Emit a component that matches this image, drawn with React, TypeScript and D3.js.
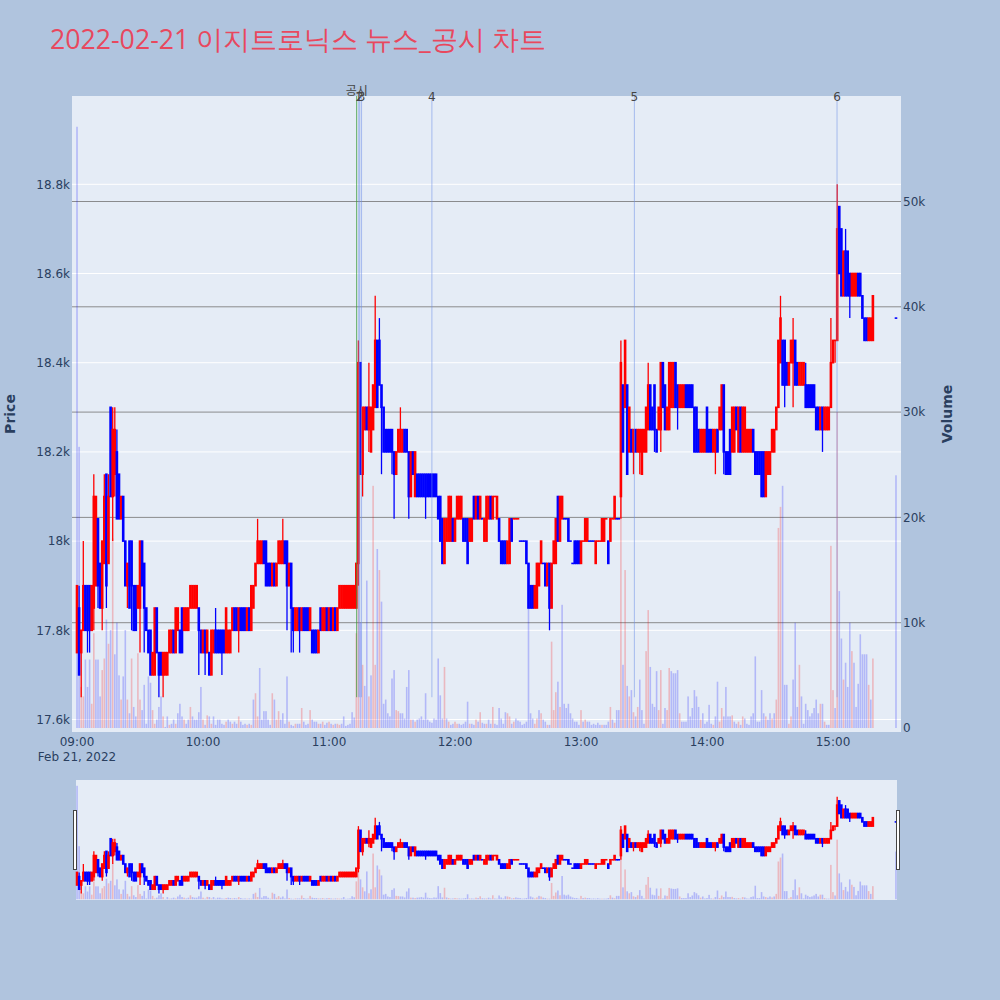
import React from "react";
import * as d3 from "d3";

type OHLC = [number, number, number, number]; // open, high, low, close

// ---------- one-minute candles (2022-02-21) ----------
const ohlc09: OHLC[] = [
  [17750,17900,17750,17900],[17850,17900,17700,17700],[17750,17800,17650,17800],[17800,18000,17800,17900],
  [17900,17900,17800,17800],[17900,17900,17750,17800],[17900,17900,17750,17800],[17800,17900,17800,17900],
  [17850,18150,17800,18100],[17900,18100,17900,18100],[18050,18050,17850,17900],[17950,17950,17850,17850],
  [17850,18000,17800,18000],[17950,18150,17950,18100],[18150,18150,17850,17900],[17950,18150,17950,18100],
  [18300,18300,18100,18100],[18100,18300,18000,18250],[18150,18300,18100,18250],[18200,18250,18050,18050],
  [18150,18150,18050,18050],[18050,18100,18050,18100],[18100,18100,18000,18000],[18000,18000,17900,17900],
  [17900,17950,17850,17950],[18000,18000,17850,17850],[18000,18000,17800,17900],[17900,17900,17800,17800],
  [17900,17900,17800,17800],[17850,17900,17850,17900],[17850,18000,17750,18000],[18000,18000,17900,17900],
  [17950,17950,17750,17850],[17850,17850,17800,17800],[17800,17800,17750,17750],[17800,17800,17700,17700],
  [17700,17750,17700,17750],[17700,17850,17700,17850],[17850,17850,17750,17750],[17750,17750,17650,17700],
  [17750,17750,17700,17700],[17700,17750,17650,17750],[17700,17750,17700,17750],[17700,17750,17700,17750],
  [17750,17800,17750,17800],[17750,17800,17750,17800],[17800,17800,17750,17750],[17750,17850,17750,17850],
  [17800,17850,17800,17850],[17800,17800,17750,17750],[17850,17850,17750,17750],[17800,17850,17800,17850],
  [17800,17850,17800,17850],[17800,17850,17800,17850],[17850,17900,17850,17900],[17850,17900,17850,17900],
  [17850,17900,17850,17900],[17850,17900,17850,17900],[17850,17850,17700,17800],[17800,17800,17750,17750],
];
const ohlc10: OHLC[] = [
  [17750,17800,17750,17800],[17800,17800,17700,17750],[17750,17800,17750,17800],[17750,17750,17700,17700],
  [17700,17800,17700,17800],[17750,17800,17750,17800],[17800,17850,17750,17750],[17800,17800,17750,17750],
  [17800,17800,17750,17750],[17800,17800,17700,17750],[17800,17800,17750,17750],[17750,17850,17750,17850],
  [17750,17800,17750,17800],[17750,17800,17750,17800],[17800,17850,17800,17850],[17850,17850,17800,17800],
  [17850,17850,17800,17800],[17800,17850,17750,17850],[17850,17850,17800,17800],[17850,17850,17800,17800],
  [17850,17850,17800,17800],[17800,17850,17800,17850],[17850,17850,17800,17800],[17800,17900,17800,17900],
  [17850,17900,17850,17900],[17900,17950,17900,17950],[17950,18050,17950,18000],[17950,18000,17950,18000],
  [17950,18000,17950,18000],[18000,18000,17950,17950],[18000,18000,17900,17900],[17950,17950,17900,17900],
  [17950,17950,17900,17900],[17900,17950,17900,17950],[17950,17950,17900,17900],[17900,17950,17900,17950],
  [17950,18000,17950,18000],[17950,18000,17950,18000],[17950,18050,17950,18000],[18000,18000,17950,17950],
  [18000,18000,17800,17900],[17900,17950,17900,17950],[17950,17950,17750,17850],[17850,17850,17750,17800],
  [17800,17850,17800,17850],[17800,17850,17800,17850],[17850,17850,17750,17800],[17800,17850,17800,17850],
  [17850,17850,17800,17800],[17850,17850,17800,17800],[17850,17850,17800,17800],[17800,17850,17800,17850],
  [17800,17800,17750,17750],[17800,17800,17750,17750],[17800,17800,17750,17750],[17750,17800,17750,17800],
  [17850,17850,17800,17800],[17800,17850,17800,17850],[17800,17850,17800,17850],[17850,17850,17800,17800],
];
const ohlc11: OHLC[] = [
  [17800,17850,17800,17850],[17850,17850,17800,17800],[17800,17850,17800,17850],[17850,17850,17800,17800],
  [17800,17850,17800,17850],[17850,17900,17850,17900],[17850,17900,17850,17900],[17850,17900,17850,17900],
  [17850,17900,17850,17900],[17850,17900,17850,17900],[17850,17900,17850,17900],[17850,17900,17850,17900],
  [17850,17900,17850,17900],[17850,17950,17850,17950],[17950,18450,17900,18400],[18400,18400,18150,18150],
  [18150,18300,18100,18300],[18250,18300,18250,18300],[18300,18300,18250,18250],[18250,18400,18200,18300],
  [18200,18300,18200,18300],[18250,18350,18250,18350],[18300,18550,18300,18450],[18450,18450,18300,18300],
  [18450,18500,18350,18350],[18350,18350,18150,18300],[18300,18300,18200,18200],[18250,18250,18200,18200],
  [18250,18250,18200,18200],[18250,18250,18200,18200],[18250,18250,18150,18200],[18200,18200,18050,18150],
  [18150,18200,18150,18200],[18200,18250,18200,18250],[18200,18300,18200,18250],[18200,18250,18200,18250],
  [18250,18250,18200,18200],[18250,18250,18200,18200],[18200,18200,18050,18100],[18100,18200,18100,18200],
  [18200,18200,18150,18150],[18100,18200,18100,18200],[18150,18150,18100,18100],[18150,18150,18100,18100],
  [18150,18150,18100,18100],[18150,18150,18100,18100],[18150,18150,18050,18100],[18150,18150,18100,18100],
  [18150,18150,18100,18100],[18150,18150,18100,18100],[18150,18150,18100,18100],[18150,18150,18100,18100],
  [18100,18100,18050,18050],[18100,18100,18000,18000],[18050,18050,17950,17950],[17950,18050,17950,18050],
  [18000,18050,18000,18050],[18000,18100,18000,18100],[18000,18100,18000,18100],[18050,18050,18000,18000],
];
const ohlc12: OHLC[] = [
  [18000,18050,18000,18050],[18050,18100,18050,18100],[18050,18100,18050,18100],[18050,18100,18050,18100],
  [18050,18050,18000,18000],[18050,18050,18000,18000],[18050,18050,17950,17950],[18000,18050,18000,18050],
  [18000,18050,18000,18050],[18100,18100,18050,18050],[18050,18100,18050,18100],[18100,18100,18050,18050],
  [18050,18100,18050,18100],[18050,18050,18050,18050],[18000,18050,18000,18050],[18000,18100,18000,18100],
  [18050,18100,18050,18100],[18100,18100,18050,18050],[18050,18100,18050,18100],[18100,18100,18100,18100],
  [18050,18100,18050,18100],[18050,18050,18000,18000],[18000,18000,17950,17950],[18000,18000,17950,17950],
  [18000,18000,17950,17950],[17950,18000,17950,18000],[17950,18050,17950,18050],[18050,18050,18000,18000],
  [18050,18050,18050,18050],[18050,18050,18050,18050],[18050,18050,18050,18050],[18000,18000,18000,18000],
  [18000,18000,18000,18000],[18000,18000,18000,18000],[18000,18000,17950,17950],[17950,17950,17850,17850],
  [17900,17900,17850,17850],[17900,17900,17850,17850],[17850,17900,17850,17900],[17850,17950,17850,17950],
  [17900,17950,17900,17950],[17950,18000,17950,18000],[17950,17950,17950,17950],[17950,17950,17900,17900],
  [17900,17950,17900,17950],[17950,17950,17800,17850],[17850,17950,17850,17950],[17950,18000,17950,18000],
  [17950,18050,17950,18050],[18100,18100,18000,18000],[18000,18100,18000,18100],[18050,18100,18050,18100],
  [18050,18050,18050,18050],[18050,18050,18050,18050],[18050,18050,18000,18000],[18000,18000,18000,18000],
  [17950,17950,17950,17950],[18000,18000,17950,17950],[18000,18000,17950,17950],[18000,18000,17950,17950],
];
const ohlc13: OHLC[] = [
  [17950,18000,17950,18000],[18000,18000,18000,18000],[18000,18050,18000,18050],[18000,18050,18000,18050],
  [18000,18000,18000,18000],[18000,18000,18000,18000],[18000,18000,18000,18000],[17950,18000,17950,18000],
  [18000,18000,18000,18000],[18000,18000,18000,18000],[18000,18050,18000,18050],[18000,18050,18000,18050],
  [18050,18050,18050,18050],[18000,18000,17950,17950],[18000,18050,18000,18050],[18050,18050,18050,18050],
  [18050,18100,18050,18100],[18050,18050,18050,18050],[18050,18050,18050,18050],[18100,18450,18050,18400],
  [18350,18350,18200,18200],[18300,18450,18300,18450],[18350,18350,18150,18150],[18200,18300,18200,18300],
  [18250,18250,18200,18200],[18200,18250,18150,18250],[18250,18250,18200,18200],[18200,18250,18200,18250],
  [18200,18250,18150,18250],[18150,18250,18150,18250],[18200,18250,18200,18250],[18200,18300,18200,18300],
  [18250,18400,18250,18350],[18350,18350,18250,18250],[18300,18300,18250,18250],[18350,18350,18200,18250],
  [18250,18250,18200,18200],[18250,18300,18250,18300],[18250,18400,18200,18400],[18400,18400,18300,18300],
  [18350,18350,18250,18250],[18250,18300,18250,18300],[18250,18400,18250,18400],[18300,18400,18300,18400],
  [18300,18400,18300,18400],[18400,18400,18300,18300],[18350,18350,18250,18300],[18300,18350,18300,18350],
  [18300,18350,18300,18350],[18300,18350,18300,18350],[18350,18350,18300,18300],[18350,18350,18300,18300],
  [18350,18350,18300,18300],[18350,18350,18300,18300],[18300,18300,18200,18200],[18300,18300,18200,18200],
  [18250,18250,18200,18200],[18200,18250,18200,18250],[18200,18250,18200,18250],[18200,18250,18200,18250],
];
const ohlc14: OHLC[] = [
  [18300,18300,18200,18200],[18250,18250,18200,18200],[18250,18250,18200,18200],[18200,18250,18200,18250],
  [18200,18250,18150,18250],[18250,18250,18200,18200],[18250,18300,18250,18300],[18250,18350,18250,18350],
  [18350,18350,18150,18200],[18200,18200,18150,18150],[18200,18200,18150,18150],[18250,18250,18150,18150],
  [18200,18300,18200,18300],[18200,18300,18200,18300],[18300,18300,18250,18250],[18200,18300,18200,18300],
  [18300,18300,18200,18200],[18200,18300,18200,18300],[18200,18300,18200,18300],[18200,18250,18200,18250],
  [18200,18250,18200,18250],[18200,18250,18200,18250],[18250,18250,18200,18200],[18200,18200,18150,18150],
  [18200,18200,18150,18150],[18200,18200,18150,18150],[18200,18200,18100,18100],[18200,18200,18100,18100],
  [18100,18200,18100,18200],[18150,18200,18150,18200],[18150,18200,18150,18200],[18200,18250,18200,18250],
  [18200,18250,18200,18250],[18250,18300,18250,18300],[18300,18450,18300,18450],[18400,18550,18400,18500],
  [18450,18450,18350,18350],[18450,18450,18300,18350],[18400,18400,18350,18350],[18350,18400,18350,18400],
  [18400,18450,18400,18450],[18400,18500,18300,18450],[18450,18450,18350,18350],[18400,18400,18350,18350],
  [18350,18400,18350,18400],[18350,18400,18350,18400],[18350,18400,18350,18400],[18350,18400,18300,18300],
  [18350,18350,18300,18300],[18350,18350,18300,18300],[18350,18350,18300,18300],[18350,18350,18300,18300],
  [18300,18300,18250,18250],[18300,18300,18250,18250],[18250,18300,18250,18300],[18300,18300,18200,18250],
  [18250,18300,18250,18300],[18250,18300,18250,18300],[18250,18300,18250,18300],[18300,18500,18300,18400],
];
const ohlc15: OHLC[] = [
  [18400,18450,18400,18450],[18450,18450,18400,18450],[18450,18800,18450,18700],[18750,18750,18600,18600],
  [18700,18700,18550,18550],[18550,18650,18550,18650],[18650,18700,18550,18550],[18650,18650,18550,18550],
  [18600,18600,18500,18550],[18550,18600,18550,18600],[18550,18600,18550,18600],[18550,18600,18550,18600],
  [18600,18600,18550,18550],[18600,18600,18550,18550],[18550,18550,18500,18500],[18500,18500,18450,18450],
  [18500,18500,18450,18450],[18450,18500,18450,18500],[18450,18500,18450,18500],[18450,18550,18450,18550],
];
const closingAuction: OHLC = [18500, 18500, 18500, 18500]; // 15:30

// ---------- one-minute volumes ----------
const vol09 = [57100,26700,3900,3000,6500,3900,6500,2300,9000,6500,6500,3000,5500,6600,10300,8000,9300,18000,7000,10000,
  5000,2700,4900,9300,2700,1400,6600,2000,1100,7100,2700,1700,4100,400,4900,4300,1700,400,800,2000,
  3000,1100,100,1100,300,400,800,400,1400,2300,1100,800,400,800,2000,1100,800,800,1500,3900];
const vol10 = [800,300,1200,1100,400,1100,300,800,800,400,300,600,800,600,400,600,400,1100,600,300,
  400,300,400,300,2700,3300,1100,5700,800,1600,1600,800,300,3300,2700,800,1600,800,1400,400,
  4900,600,300,200,400,400,400,1900,600,300,400,1700,800,600,600,400,400,600,300,500];
const vol11 = [600,400,300,400,400,300,400,1100,200,300,400,1500,1000,9000,15000,10000,6000,4000,14000,3000,
  5000,23000,6000,17000,15000,12000,2300,2700,1400,1100,4700,5500,1700,1600,1400,1400,900,3900,5500,800,
  800,600,800,900,1100,800,3300,800,600,500,900,800,6600,3100,900,5800,900,600,300,400];
const vol12 = [600,400,400,300,400,600,2500,400,400,300,800,600,1500,500,400,400,800,400,2000,400,
  300,1900,900,400,1500,1400,1100,400,600,900,700,600,300,400,600,11400,1400,900,400,900,
  1700,1400,800,600,300,300,8200,1700,3400,4400,2000,11700,2300,1900,2300,1400,900,600,600,300];
const vol13 = [1700,600,800,600,600,300,400,300,500,300,300,300,300,600,2000,800,500,1700,1700,30000,
  6000,15000,4000,3000,3600,1500,1100,2000,4600,1700,400,7300,11200,5800,2300,2000,5400,1700,5500,400,
  1900,1700,5700,5400,5200,5200,5500,1400,600,600,600,3000,1100,1900,3600,3000,2000,800,1400,400];
const vol14 = [600,2200,400,300,1100,4400,600,1900,1100,3900,1100,1100,1200,600,400,600,300,1100,900,400,
  300,1100,1400,6800,600,600,3600,1400,1100,800,1400,900,1400,2700,19000,21000,23000,4100,4100,400,
  1100,4600,10000,2000,6000,3000,400,2300,1700,1100,1400,1900,2700,1400,2300,2300,600,300,300,17300];
const vol15 = [3600,1900,30000,13000,8500,4600,6200,3900,10000,7300,6200,2000,4200,8900,7000,7000,7000,4100,2700,6600];
const closingVolume = 24000;

// ---------- event markers ----------
const eventLabels = ["공시", "1", "2", "3", "4", "5", "6"];
const eventTimes = ["11:13:11", "11:14:10", "11:14:40", "11:15:30", "11:49:00", "13:25:25", "15:01:55"];

// ---------- axis ticks ----------
const priceTicks = [17600, 17800, 18000, 18200, 18400, 18600, 18800];
const volumeTicks = [0, 10000, 20000, 30000, 40000, 50000];

const TITLE = "2022-02-21 이지트로닉스 뉴스_공시 차트";
const TITLE_FONT = '"Open Sans", verdana, arial, sans-serif';
const FONT = '"DejaVu Sans", Verdana, "Noto Sans CJK KR", sans-serif';
const TXT = "#2a3f5f";
const UP = "#ff0000";
const DOWN = "#0000ff";

const day = (h: number, m: number, s = 0) => new Date(2022, 1, 21, h, m, s);
const parseT = (t: string) => {
  const [h, m, s] = t.split(":").map(Number);
  return day(h, m, s);
};

interface Bar { t: Date; o: number; h: number; l: number; c: number; v: number; up: boolean; volUp: boolean; }

function buildBars(): Bar[] {
  const sess = [...ohlc09, ...ohlc10, ...ohlc11, ...ohlc12, ...ohlc13, ...ohlc14, ...ohlc15];
  const vols = [...vol09, ...vol10, ...vol11, ...vol12, ...vol13, ...vol14, ...vol15];
  const rows: { t: Date; k: OHLC; v: number }[] = sess.map((k, i) => ({ t: day(9, i), k, v: vols[i] }));
  rows.push({ t: day(15, 30), k: closingAuction, v: closingVolume });
  const out: Bar[] = [];
  let prevC = NaN;
  let prevUp = true;
  rows.forEach((r) => {
    const [o, h, l, c] = r.k;
    let up: boolean;
    if (c > o) up = true;
    else if (c < o) up = false;
    else up = c > prevC ? true : c < prevC ? false : prevUp;
    const volUp = c > prevC; // volume colour: close versus previous close (first bar: down colour)
    out.push({ t: r.t, o, h, l, c, v: r.v, up, volUp });
    prevC = c;
    prevUp = up;
  });
  return out;
}

function Series({ bars, x, yP, yV, bodyW, wickW, volW }: {
  bars: Bar[]; x: (d: Date) => number; yP: d3.ScaleLinear<number, number>; yV: d3.ScaleLinear<number, number>;
  bodyW: number; wickW: number; volW: number;
}) {
  return (
    <g>
      <g>
        {bars.map((b, i) => (
          <rect key={"v" + i} x={x(b.t) - volW / 2} y={yV(b.v)} width={volW} height={Math.max(0, yV(0) - yV(b.v))}
            fill={b.volUp ? UP : DOWN} fillOpacity={0.22} />
        ))}
      </g>
      <g>
        {bars.map((b, i) => {
          const cx = x(b.t);
          const col = b.up ? UP : DOWN;
          const top = yP(Math.max(b.o, b.c));
          const bot = yP(Math.min(b.o, b.c));
          return (
            <g key={"c" + i}>
              <line x1={cx} x2={cx} y1={yP(b.h)} y2={yP(b.l)} stroke={col} strokeWidth={wickW} />
              <rect x={cx - bodyW / 2} y={top - 0.8} width={bodyW} height={bot - top + 1.6} fill={col} />
            </g>
          );
        })}
      </g>
    </g>
  );
}

export default function App() {
  const bars = buildBars();
  const W = 1000, H = 1000;
  const L = 72, R = 901, T = 96, B = 732;
  const x = d3.scaleTime().domain([day(8, 57, 37), day(15, 32, 23)]).range([L, R]);
  const yP = d3.scaleLinear().domain([17572, 18998]).range([B, T]);
  const yV = d3.scaleLinear().domain([-380, 60020]).range([B, T]);

  const sL = 76, sR = 897, sT = 780, sB = 900;
  const xs = d3.scaleTime().domain([day(8, 59, 30), day(15, 30, 30)]).range([sL, sR]);
  const ysP = d3.scaleLinear().domain([17572, 18998]).range([sB, sT]);
  const ysV = d3.scaleLinear().domain([-380, 60020]).range([sB, sT]);

  const fmtK = d3.format("~s");
  const hourTicks = x.ticks(d3.timeHour.every(1) as any).filter((d) => d >= day(9, 0) && d <= day(15, 0));
  const fmtHM = d3.timeFormat("%H:%M");
  const lowest = d3.min(bars, (b) => b.l) as number;

  return (
    <svg width={W} height={H} style={{ display: "block", position: "absolute", left: 0, top: 0 }}>
      <rect x={0} y={0} width={W} height={H} fill="#b0c4de" />
      <text x={50} y={49} fontFamily={TITLE_FONT} fontSize={26.7} fill="#e8485e">{TITLE}</text>

      {/* plot area */}
      <rect x={L} y={T} width={R - L} height={B - T} fill="#e5ecf6" />
      {priceTicks.map((p) => (
        <line key={"pg" + p} x1={L} x2={R} y1={yP(p)} y2={yP(p)} stroke="#ffffff" strokeWidth={1} />
      ))}
      {volumeTicks.filter((v) => v > 0).map((v) => (
        <line key={"vg" + v} x1={L} x2={R} y1={yV(v)} y2={yV(v)} stroke="#7a7a7a" strokeOpacity={0.85} strokeWidth={1} />
      ))}

      <Series bars={bars} x={x} yP={yP} yV={yV} bodyW={2.6} wickW={1.3} volW={1.6} />

      {/* event markers */}
      {eventTimes.map((t, i) => {
        const ex = x(parseT(t));
        const isNews = i === 0;
        return (
          <g key={"ev" + i}>
            <line x1={ex} x2={ex} y1={yP(lowest)} y2={T} stroke={isNews ? "#3a9a3a" : "#6f8fe8"}
              strokeOpacity={isNews ? 0.8 : 0.55} strokeWidth={1} />
            <text x={ex} y={isNews ? 95 : 101} textAnchor="middle" fontFamily={FONT} fontSize={12} fill="#444">
              {eventLabels[i]}
            </text>
          </g>
        );
      })}

      {/* price axis */}
      {priceTicks.map((p) => (
        <text key={"pt" + p} x={70} y={yP(p)} dy="0.35em" textAnchor="end" fontFamily={FONT} fontSize={12} fill={TXT}>
          {fmtK(p)}
        </text>
      ))}
      {/* volume axis */}
      {volumeTicks.map((v) => (
        <text key={"vt" + v} x={903} y={yV(v)} dy="0.35em" textAnchor="start" fontFamily={FONT} fontSize={12} fill={TXT}>
          {fmtK(v)}
        </text>
      ))}
      {/* time axis */}
      {hourTicks.map((d, i) => (
        <text key={"xt" + i} x={x(d)} y={746} textAnchor="middle" fontFamily={FONT} fontSize={12} fill={TXT}>
          {fmtHM(d)}
        </text>
      ))}
      <text x={x(day(9, 0))} y={761} textAnchor="middle" fontFamily={FONT} fontSize={12} fill={TXT}>Feb 21, 2022</text>

      <text transform={`translate(15,${(T + B) / 2}) rotate(-90)`} textAnchor="middle" fontFamily={FONT} fontSize={14}
        fontWeight="bold" fill={TXT}>Price</text>
      <text transform={`translate(952,${(T + B) / 2}) rotate(-90)`} textAnchor="middle" fontFamily={FONT} fontSize={14}
        fontWeight="bold" fill={TXT}>Volume</text>

      {/* range slider */}
      <rect x={sL} y={sT} width={sR - sL} height={sB - sT} fill="#e5ecf6" />
      <Series bars={bars} x={xs} yP={ysP} yV={ysV} bodyW={2.6} wickW={1.3} volW={1.6} />
      <rect x={73.5} y={810.5} width={3} height={59} fill="#ffffff" stroke="#444" strokeWidth={1} />
      <rect x={896.5} y={810.5} width={3} height={59} fill="#ffffff" stroke="#444" strokeWidth={1} />
    </svg>
  );
}
